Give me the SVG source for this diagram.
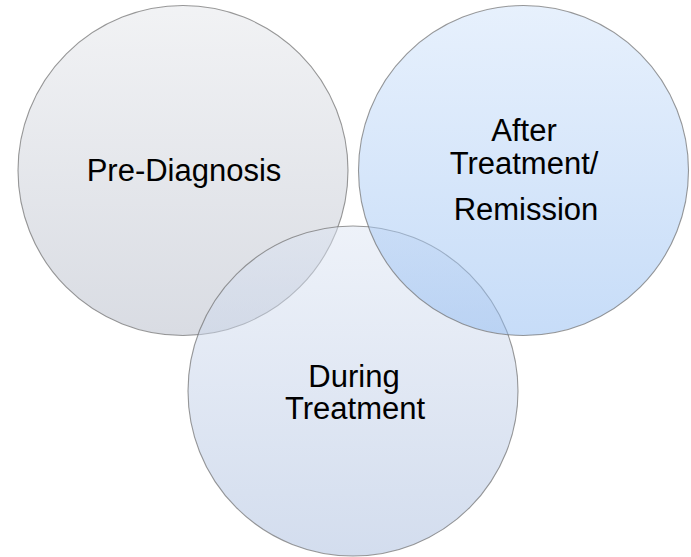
<svg xmlns="http://www.w3.org/2000/svg" width="691" height="557" viewBox="0 0 691 557">
  <defs>
    <linearGradient id="gradGray" x1="0" y1="0" x2="0" y2="1">
      <stop offset="0" stop-color="#e4e6ea"/>
      <stop offset="1" stop-color="#b3b9c7"/>
    </linearGradient>
    <linearGradient id="gradBlue" x1="0" y1="0" x2="0" y2="1">
      <stop offset="0" stop-color="#cfe2fa"/>
      <stop offset="1" stop-color="#8fbaf1"/>
    </linearGradient>
    <linearGradient id="gradSlate" x1="0" y1="0" x2="0" y2="1">
      <stop offset="0" stop-color="#dde5f3"/>
      <stop offset="1" stop-color="#a7bbdd"/>
    </linearGradient>
  </defs>
  <style>
    .ring { fill-opacity: 0.5; stroke: #6e6e6e; stroke-opacity: 0.7; stroke-width: 1.1; }
    .label { font-family: "Liberation Sans", Arial, sans-serif; font-size: 31px; fill: #000; text-anchor: middle; }
  </style>
  <rect width="691" height="557" fill="#ffffff"/>
  <g id="shapes">
    <g id="pre-diagnosis">
      <circle class="ring" cx="183" cy="170.5" r="165" fill="url(#gradGray)"/>
    </g>
    <g id="during-treatment">
      <circle class="ring" cx="353" cy="391" r="165" fill="url(#gradSlate)"/>
    </g>
    <g id="after-treatment">
      <circle class="ring" cx="523.5" cy="170.5" r="165" fill="url(#gradBlue)"/>
    </g>
  </g>
  <g id="labels">
    <text class="label" x="184" y="181">Pre-Diagnosis</text>
    <text class="label" x="524" y="141">After</text>
    <text class="label" x="524" y="174">Treatment/</text>
    <text class="label" x="526" y="220">Remission</text>
    <text class="label" x="354" y="387">During</text>
    <text class="label" x="355" y="419">Treatment</text>
  </g>
</svg>
